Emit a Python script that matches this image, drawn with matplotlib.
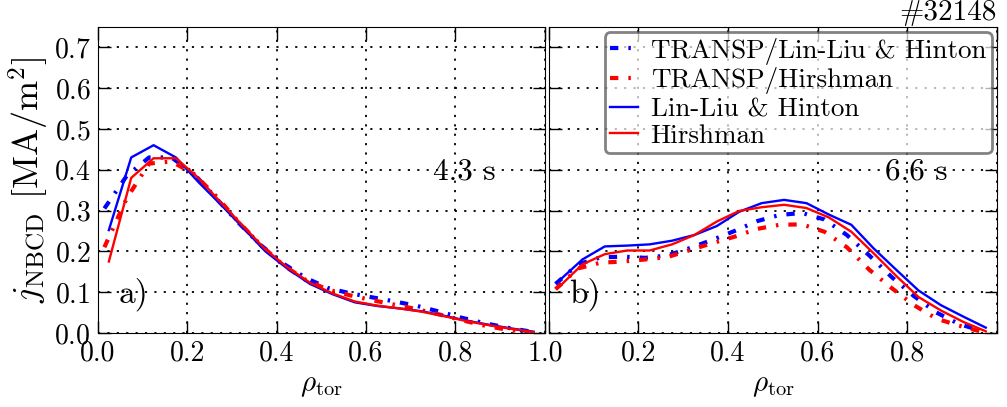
import numpy as np
import matplotlib
matplotlib.use("Agg")
import matplotlib.pyplot as plt

plt.rcParams['font.family'] = 'serif'
plt.rcParams['font.serif'] = ['cmr10', 'DejaVu Serif']
plt.rcParams['mathtext.fontset'] = 'cm'
plt.rcParams['axes.formatter.use_mathtext'] = True
plt.rcParams['axes.unicode_minus'] = False

# radial grids (rho_tor)
rho = [0.025, 0.075, 0.125, 0.175, 0.225, 0.275, 0.325, 0.375, 0.425, 0.475,
       0.525, 0.575, 0.625, 0.675, 0.725, 0.775, 0.825, 0.875, 0.925, 0.975]
rho_t = [0.015, 0.065, 0.115, 0.165, 0.215, 0.265, 0.315, 0.365, 0.415, 0.465,
         0.515, 0.565, 0.615, 0.665, 0.715, 0.765, 0.815, 0.865, 0.915, 0.965]

# a) 4.3 s
a_transp_ll = [0.305, 0.385, 0.43, 0.43, 0.39, 0.33, 0.27, 0.215, 0.17, 0.135,
               0.11, 0.097, 0.087, 0.077, 0.066, 0.052, 0.037, 0.024, 0.013, 0.004]
a_transp_hi = [0.21, 0.33, 0.415, 0.42, 0.39, 0.335, 0.272, 0.215, 0.166, 0.13,
               0.106, 0.092, 0.08, 0.069, 0.058, 0.045, 0.031, 0.018, 0.008, 0.002]
a_ll = [0.252, 0.43, 0.46, 0.43, 0.37, 0.315, 0.258, 0.2, 0.157, 0.12,
        0.095, 0.075, 0.066, 0.06, 0.053, 0.042, 0.03, 0.02, 0.011, 0.003]
a_hi = [0.175, 0.38, 0.428, 0.428, 0.38, 0.32, 0.262, 0.205, 0.16, 0.123,
        0.097, 0.077, 0.067, 0.06, 0.052, 0.041, 0.029, 0.019, 0.01, 0.002]

# b) 6.6 s
b_transp_ll = [0.12, 0.168, 0.185, 0.187, 0.184, 0.19, 0.208, 0.228, 0.25, 0.274,
               0.289, 0.294, 0.278, 0.24, 0.19, 0.137, 0.09, 0.05, 0.022, 0.005]
b_transp_hi = [0.107, 0.158, 0.172, 0.175, 0.18, 0.186, 0.203, 0.22, 0.236, 0.255,
               0.265, 0.266, 0.248, 0.21, 0.155, 0.11, 0.068, 0.035, 0.018, 0.003]
b_ll = [0.13, 0.18, 0.212, 0.214, 0.217, 0.226, 0.24, 0.262, 0.297, 0.318,
        0.326, 0.318, 0.29, 0.265, 0.207, 0.155, 0.104, 0.068, 0.04, 0.013]
b_hi = [0.115, 0.168, 0.193, 0.202, 0.202, 0.217, 0.24, 0.273, 0.299, 0.308,
        0.314, 0.306, 0.283, 0.248, 0.195, 0.14, 0.088, 0.055, 0.027, 0.004]

dash = (0, (2.0, 2.4, 0.6, 2.4))

fig = plt.figure(figsize=(10.07, 4.07), dpi=100)
ax1 = fig.add_axes([0.097, 0.182, 0.444, 0.752])
ax2 = fig.add_axes([0.545, 0.182, 0.445, 0.752])

panels = [(ax1, a_transp_ll, a_transp_hi, a_ll, a_hi, '4.3 s', 'a)'),
          (ax2, b_transp_ll, b_transp_hi, b_ll, b_hi, '6.6 s', 'b)')]
for ax, tll, thi, ll, hi, tlabel, plabel in panels:
    ax.plot(rho_t, tll, color='#0000ff', lw=3, linestyle=dash, label='TRANSP/Lin-Liu & Hinton')
    ax.plot(rho_t, thi, color='#ff0000', lw=3, linestyle=dash, label='TRANSP/Hirshman')
    ax.plot(rho, ll, color='#0000ff', lw=1.7, label='Lin-Liu & Hinton')
    ax.plot(rho, hi, color='#ff0000', lw=1.7, label='Hirshman')
    ax.set_xlim(0, 1)
    ax.set_ylim(0, 0.75)
    ax.set_xticks([0.0, 0.2, 0.4, 0.6, 0.8, 1.0])
    ax.set_yticks([0.0, 0.1, 0.2, 0.3, 0.4, 0.5, 0.6, 0.7])
    ax.grid(True, color='k', linestyle=(0, (1.2, 4.0)), lw=1.3)
    ax.tick_params(direction='in', top=True, right=True, length=9, width=1,
                   labelsize=20, pad=5)
    ax.set_xlabel(r'$\rho_\mathrm{tor}$', fontsize=21, labelpad=5)
    ax.text(0.82, 0.526, tlabel, transform=ax.transAxes, fontsize=22.5,
            ha='center', va='center')
    ax.text(0.081, 0.127, plabel, transform=ax.transAxes, fontsize=24,
            ha='center', va='center')

ax1.set_ylabel(r'$j_\mathrm{NBCD}$ [MA/m$^2$]', fontsize=26, labelpad=2)
ax1.set_xticklabels(['0.0', '0.2', '0.4', '0.6', '0.8', '1.0'])
ax2.set_xticklabels(['', '0.2', '0.4', '0.6', '0.8', ''])
ax2.set_yticklabels([])

leg = ax2.legend(loc='upper right', fontsize=19.5, handlelength=1.05,
                 handletextpad=0.45, labelspacing=0.1, borderpad=0.2,
                 borderaxespad=0.2, fancybox=True, framealpha=0.7)
leg.get_frame().set_edgecolor('0.3')
leg.get_frame().set_linewidth(2)

fig.text(0.99, 1.0, '#32148', fontsize=21, ha='right', va='top')

fig.savefig('out.png', dpi=100)
